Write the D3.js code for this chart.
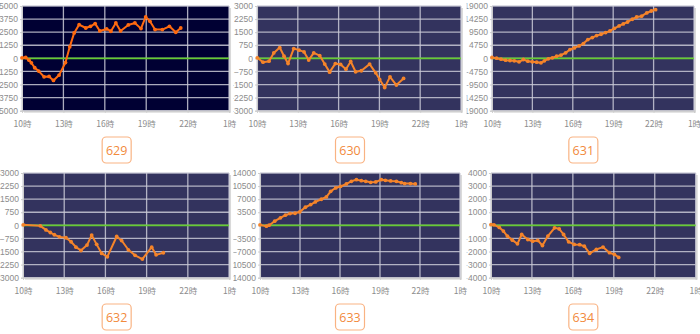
<!DOCTYPE html>
<html>
<head>
<meta charset="utf-8">
<script src="https://cdn.jsdelivr.net/npm/d3@7"></script>
<style>
  html, body { margin: 0; padding: 0; background: #ffffff; }
  svg { display: block; }
  text { font-family: "Liberation Sans", "Noto Sans CJK JP", sans-serif; }
</style>
</head>
<body>
<svg id="chart" width="700" height="334"></svg>
<script>
// Machine numbers shown under each small chart
const machineIds = ["629", "630", "631", "632", "633", "634"];

// Symmetric y range of each chart (top tick value)
const yMaxes = [5000, 3000, 19000, 3000, 14000, 4000];

// Shared x axis: business hours 10:00 to 1:00 next day
const xTickHours = [10, 13, 16, 19, 22, 25];
const xTickLabels = ["10時", "13時", "16時", "19時", "22時", "1時"];

// Sample times (hours) and running difference for each machine
const hours629 = [10.0, 10.27, 10.51, 10.68, 10.92, 11.21, 11.6, 11.96, 12.28, 12.69, 13.15, 13.46, 13.78, 14.14, 14.62, 14.96, 15.3, 15.64, 16.13, 16.44, 16.8, 17.14, 17.7, 18.18, 18.62, 18.96, 19.27, 19.64, 20.17, 20.68, 21.14, 21.5];
const values629 = [50, 80, -175, -430, -900, -1220, -1760, -1730, -2110, -1600, -400, 1100, 2430, 3220, 2900, 3060, 3320, 2620, 2810, 2590, 3380, 2620, 3190, 3380, 2840, 3950, 3540, 2750, 2750, 3060, 2490, 2900];

const hours630 = [10.02, 10.44, 10.88, 11.23, 11.67, 11.99, 12.28, 12.7, 13.09, 13.46, 13.8, 14.17, 14.61, 14.98, 15.34, 15.76, 16.15, 16.54, 16.89, 17.25, 17.67, 18.28, 18.73, 19.02, 19.39, 19.78, 20.25, 20.78];
const values630 = [30, -220, -160, 310, 620, 120, -300, 560, 470, 370, -100, 310, 160, -330, -790, -300, -350, -620, -180, -770, -710, -330, -830, -1210, -1670, -1060, -1530, -1150];

const hours631 = [10.0, 10.34, 10.67, 11.01, 11.34, 11.66, 12.01, 12.33, 12.66, 13.0, 13.32, 13.64, 13.89, 14.18, 14.48, 14.8, 15.12, 15.47, 15.79, 16.12, 16.47, 16.79, 17.12, 17.45, 17.77, 18.1, 18.44, 18.76, 19.09, 19.44, 19.75, 20.07, 20.42, 20.74, 21.11, 21.49, 21.83, 22.15];
const values631 = [300, 60, -300, -660, -780, -900, -1270, -420, -1030, -1270, -1390, -1630, -900, -180, 180, 780, 1150, 2000, 3200, 3800, 4520, 5370, 6800, 7540, 8260, 8750, 9350, 9950, 10900, 11760, 12480, 13200, 14200, 15000, 15300, 16470, 17190, 17670];

const hours632 = [10.02, 11.26, 11.67, 11.99, 12.28, 12.65, 13.13, 13.5, 13.86, 14.22, 14.66, 15.0, 15.36, 15.73, 16.14, 16.82, 17.18, 17.67, 18.16, 18.69, 19.37, 19.69, 20.22];
const values632 = [30, -30, -260, -410, -540, -660, -710, -940, -1250, -1440, -1130, -560, -1090, -1610, -1800, -640, -870, -1400, -1720, -1930, -1250, -1690, -1570];

const hours633 = [10.0, 10.48, 10.68, 11.1, 11.53, 11.9, 12.25, 12.63, 12.98, 13.4, 13.8, 14.15, 14.6, 14.98, 15.3, 15.68, 16.05, 16.48, 16.85, 17.23, 17.6, 17.93, 18.3, 18.68, 19.1, 19.4, 19.8, 20.23, 20.6, 20.85, 21.28, 21.65];
const values633 = [130, -220, 40, 1110, 2000, 2710, 3160, 3240, 3600, 4840, 5560, 6270, 6980, 7600, 9110, 10000, 10440, 11070, 11780, 12220, 11960, 11780, 11510, 11600, 12220, 12040, 11870, 11780, 11420, 11160, 11160, 11070];

const hours634 = [10.0, 10.22, 10.61, 10.91, 11.2, 11.57, 11.94, 12.25, 12.7, 13.06, 13.43, 13.77, 14.17, 14.66, 15.0, 15.32, 15.69, 16.1, 16.5, 16.84, 17.23, 17.72, 18.21, 18.68, 19.04, 19.36];
const values634 = [60, 40, -160, -440, -820, -1130, -1410, -700, -1080, -1210, -1150, -1540, -820, -190, -270, -700, -1260, -1460, -1480, -1590, -2140, -1840, -1660, -2090, -2220, -2450];

const seriesHours = [hours629, hours630, hours631, hours632, hours633, hours634];
const seriesValues = [values629, values630, values631, values632, values633, values634];

// ---- layout ----
const W = 700, colW = W / 3, rowH = 167;
// plot-area insets inside each panel cell: [left, right]
const insets = [[22, 4.3], [23.7, 5.7], [25.3, 6], [23, 4.3], [26.7, 6.7], [24.3, 4.3]];
const plotTop = 6, plotBottom = 110.7;

const svg = d3.select("#chart");
const defs = svg.append("defs");

machineIds.forEach((id, i) => {
  const col = i % 3, row = Math.floor(i / 3);
  const first = i === 0;
  const bg = first ? "#000033" : "#33335e";
  const lineColor = first ? "#ff6a10" : "#f5842a";

  // each cell hides whatever spills past its left edge
  const clipId = `cell-clip-${i}`;
  defs.append("clipPath").attr("id", clipId)
    .append("rect").attr("x", 0).attr("y", 0)
    .attr("width", colW + 20).attr("height", rowH);

  const cell = svg.append("g")
    .attr("transform", `translate(${col * colW},${row * rowH})`)
    .attr("clip-path", `url(#${clipId})`);

  const left = insets[i][0], right = colW - insets[i][1];
  const x = d3.scaleLinear().domain([10, 25]).range([left, right]);
  const yMax = yMaxes[i];
  const y = d3.scaleLinear().domain([-yMax, yMax]).range([plotBottom, plotTop]);
  const yTicks = d3.range(-4, 5).map(k => k * yMax / 4);

  // drop shadow + plot background
  cell.append("rect")
    .attr("x", left + 2).attr("y", plotTop + 2)
    .attr("width", right - left).attr("height", plotBottom - plotTop)
    .attr("fill", "#d9d9d9");
  cell.append("rect")
    .attr("x", left).attr("y", plotTop)
    .attr("width", right - left).attr("height", plotBottom - plotTop)
    .attr("fill", bg);

  // grid lines
  cell.append("g").selectAll("line").data(yTicks).join("line")
    .attr("x1", left).attr("x2", right)
    .attr("y1", d => y(d)).attr("y2", d => y(d))
    .attr("stroke", "#c9c9d6").attr("stroke-width", 1.3).attr("stroke-opacity", 0.85);
  cell.append("g").selectAll("line").data(xTickHours).join("line")
    .attr("x1", d => x(d)).attr("x2", d => x(d))
    .attr("y1", plotTop).attr("y2", plotBottom)
    .attr("stroke", "#c9c9d6").attr("stroke-width", 1.3).attr("stroke-opacity", 0.85);

  // y axis
  const yAxis = d3.axisLeft(y).tickValues(yTicks).tickSize(2).tickPadding(2).tickFormat(d3.format("d"));
  const gy = cell.append("g").attr("transform", `translate(${left},0)`).call(yAxis);
  gy.select(".domain").attr("stroke", "#cccccc");
  gy.selectAll(".tick line").attr("stroke", "#cccccc");
  gy.selectAll("text").attr("fill", "#8c8c8c").attr("font-size", 8.5);

  // x axis
  const xAxis = d3.axisBottom(x).tickValues(xTickHours).tickSize(2).tickPadding(8)
    .tickFormat((d, k) => xTickLabels[k]);
  const gx = cell.append("g").attr("transform", `translate(0,${plotBottom})`).call(xAxis);
  gx.select(".domain").attr("stroke", "#cccccc");
  gx.selectAll(".tick line").attr("stroke", "#cccccc");
  gx.selectAll("text").attr("fill", "#8c8c8c").attr("font-size", 8.5)
    .style("font-family", "'Noto Sans CJK JP', sans-serif");

  // zero line
  cell.append("line")
    .attr("x1", left).attr("x2", right)
    .attr("y1", y(0)).attr("y2", y(0))
    .attr("stroke", "#66cc33").attr("stroke-width", 1.6);

  // series line and markers
  const pts = seriesHours[i].map((h, k) => [h, seriesValues[i][k]]);
  cell.append("path").datum(pts)
    .attr("fill", "none").attr("stroke", lineColor).attr("stroke-width", 2)
    .attr("stroke-linejoin", "round")
    .attr("d", d3.line().x(d => x(d[0])).y(d => y(d[1])));
  cell.append("g").selectAll("circle").data(pts).join("circle")
    .attr("cx", d => x(d[0])).attr("cy", d => y(d[1])).attr("r", 1.9)
    .attr("fill", lineColor);

  // machine number badge
  const bw = 29, bh = 26, bx = colW / 2 - bw / 2, by = 137;
  cell.append("rect")
    .attr("x", bx).attr("y", by).attr("width", bw).attr("height", bh)
    .attr("rx", 4).attr("fill", "#ffffff")
    .attr("stroke", "#f9b383").attr("stroke-width", 1.2);
  cell.append("text")
    .attr("x", colW / 2).attr("y", by + bh / 2 + 4.5)
    .attr("text-anchor", "middle").attr("font-size", 12.5)
    .attr("fill", "#f28a3c")
    .style("font-family", "'Open Sans', 'Noto Sans', sans-serif")
    .text(id);
});
</script>
</body>
</html>
